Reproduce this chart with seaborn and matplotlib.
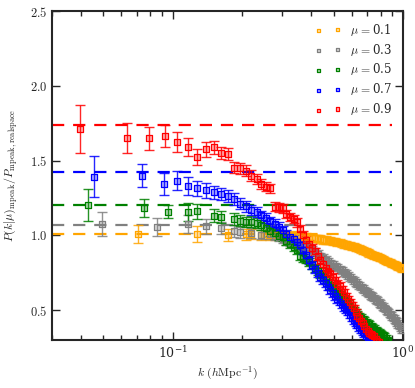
import numpy as np
import pandas as pd
import matplotlib
matplotlib.use("Agg")
import matplotlib.pyplot as plt
import seaborn as sns
from matplotlib.ticker import FixedLocator, FormatStrFormatter, LogLocator, NullFormatter
from matplotlib.colors import to_rgba

nan = np.nan

# Data
mus = ["0.1", "0.3", "0.5", "0.7", "0.9"]
colors = ["orange", "gray", "green", "blue", "red"]
kaiser = [1.008, 1.072, 1.206, 1.422, 1.738]

# common k bins (h/Mpc) at k > 0.1
k_grid = [0.105, 0.1165, 0.128, 0.1395, 0.151, 0.1625, 0.174, 0.1855, 0.197, 0.2085,
          0.220, 0.2315, 0.243, 0.2545, 0.266, 0.2775, 0.289, 0.3005, 0.312, 0.3235,
          0.335, 0.3465, 0.358, 0.3695, 0.381, 0.3925, 0.404, 0.4155, 0.427, 0.4385,
          0.450, 0.4615, 0.473, 0.4845, 0.496, 0.5075, 0.519, 0.5305, 0.542, 0.5535,
          0.565, 0.5765, 0.588, 0.5995, 0.611, 0.6225, 0.634, 0.6455, 0.657, 0.6685,
          0.680, 0.6915, 0.703, 0.7145, 0.726, 0.7375, 0.749, 0.7605, 0.772, 0.7835,
          0.795, 0.8065, 0.818, 0.8295, 0.841, 0.8525, 0.864, 0.8755, 0.887, 0.8985,
          0.910, 0.9215, 0.933, 0.9445, 0.956, 0.9675, 0.979, 0.9905]
err_grid = [0.065, 0.060, 0.052, 0.048, 0.045, 0.042, 0.040, 0.038, 0.036, 0.035,
            0.034, 0.033, 0.032, 0.031, 0.030, 0.030, 0.029, 0.029, 0.028, 0.028,
            0.027, 0.027, 0.027, 0.026, 0.026, 0.026, 0.026, 0.025, 0.025, 0.025,
            0.025, 0.025, 0.024, 0.024, 0.024, 0.024, 0.024, 0.024, 0.023, 0.023,
            0.023, 0.023, 0.023, 0.023, 0.023, 0.022, 0.022, 0.022, 0.022, 0.022,
            0.022, 0.022, 0.022, 0.022, 0.021, 0.021, 0.021, 0.021, 0.021, 0.021,
            0.021, 0.021, 0.021, 0.021, 0.020, 0.020, 0.020, 0.020, 0.020, 0.020,
            0.020, 0.020, 0.020, 0.020, 0.020, 0.020, 0.020, 0.020]

p01 = [nan, nan, 1.010, nan, nan, nan, 1.004, nan, nan, 1.006,
       1.010, nan, 1.004, 1.006, 1.000, 1.004, 0.998, 1.000, 1.002, 0.996,
       1.000, 0.994, 0.996, 0.990, 0.990, 0.986, 0.984, 0.980, 0.980, 0.974,
       0.970, 0.970, 0.966, 0.964, 0.960, 0.956, 0.954, 0.950, 0.946, 0.940,
       0.940, 0.934, 0.930, 0.926, 0.924, 0.920, 0.914, 0.910, 0.906, 0.900,
       0.894, 0.890, 0.886, 0.880, 0.874, 0.870, 0.866, 0.860, 0.858, 0.854,
       0.850, 0.846, 0.840, 0.836, 0.830, 0.828, 0.824, 0.820, 0.816, 0.810,
       0.808, 0.804, 0.800, 0.796, 0.790, 0.786, 0.780, 0.776]
p03 = [nan, 1.078, nan, 1.060, nan, 1.050, nan, 1.030, 1.020, nan,
       1.018, nan, 1.005, nan, 1.006, 0.996, 0.990, 0.976, 0.964, 0.956,
       0.950, 0.940, 0.936, 0.928, 0.924, 0.914, 0.900, 0.890, 0.874, 0.860,
       0.850, 0.836, 0.826, 0.814, 0.806, 0.794, 0.786, 0.774, 0.766, 0.754,
       0.742, 0.730, 0.720, 0.708, 0.696, 0.686, 0.674, 0.666, 0.654, 0.646,
       0.634, 0.626, 0.616, 0.608, 0.598, 0.590, 0.580, 0.570, 0.564, 0.554,
       0.544, 0.536, 0.524, 0.516, 0.504, 0.496, 0.484, 0.476, 0.464, 0.456,
       0.444, 0.436, 0.424, 0.416, 0.400, 0.392, 0.380, 0.370]
p05 = [nan, 1.158, 1.160, nan, 1.132, 1.124, nan, 1.110, 1.098, 1.090,
       1.092, 1.080, 1.070, 1.050, 1.028, 1.014, 0.998, 0.990, 0.962, 0.940,
       0.922, 0.904, 0.862, 0.850, 0.838, 0.820, 0.800, 0.782, 0.760, 0.742,
       0.720, 0.700, 0.682, 0.666, 0.650, 0.636, 0.620, 0.604, 0.590, 0.576,
       0.560, 0.546, 0.530, 0.514, 0.500, 0.486, 0.470, 0.460, 0.450, 0.440,
       0.430, 0.420, 0.410, 0.404, 0.394, 0.384, 0.376, 0.366, 0.360, 0.350,
       0.344, 0.338, 0.334, 0.324, 0.314, 0.302, 0.290, nan, nan, nan,
       nan, nan, nan, nan, nan, nan, nan, nan]
p07 = [1.365, 1.328, 1.314, 1.300, 1.288, 1.276, 1.262, 1.244, 1.212, 1.194,
       1.170, 1.156, 1.134, 1.116, 1.094, 1.076, 1.058, 1.036, 1.010, 0.990,
       0.978, 0.958, 0.934, 0.902, 0.866, 0.834, 0.802, 0.774, 0.746, 0.720,
       0.700, 0.678, 0.656, 0.634, 0.614, 0.592, 0.574, 0.556, 0.538, 0.520,
       0.504, 0.488, 0.470, 0.450, 0.432, 0.414, 0.400, 0.384, 0.370, 0.356,
       0.344, 0.330, 0.318, 0.304, 0.290, nan, nan, nan, nan, nan,
       nan, nan, nan, nan, nan, nan, nan, nan, nan, nan,
       nan, nan, nan, nan, nan, nan, nan, nan]
p09 = [1.625, 1.590, 1.525, 1.575, 1.588, 1.550, 1.545, 1.452, 1.448, 1.432,
       1.400, 1.378, 1.342, 1.326, 1.316, 1.190, 1.188, 1.180, 1.142, 1.124,
       1.108, 1.086, 1.040, 1.002, 0.968, 0.944, 0.914, 0.892, 0.860, 0.836,
       0.808, 0.782, 0.758, 0.742, 0.722, 0.698, 0.676, 0.662, 0.638, 0.620,
       0.594, 0.572, 0.552, 0.534, 0.512, 0.488, 0.462, 0.446, 0.430, 0.414,
       0.396, 0.376, 0.362, 0.350, 0.342, 0.334, 0.326, 0.310, 0.296, 0.284,
       nan, nan, nan, nan, nan, nan, nan, nan, nan, nan,
       nan, nan, nan, nan, nan, nan, nan, nan]

# sparse low-k bins, different for each mu
k_low_01 = [0.0705]
p_low_01 = [1.009]
e_low_01 = [0.060]
k_low_03 = [0.0494, 0.0858]
p_low_03 = [1.073, 1.056]
e_low_03 = [0.080, 0.061]
k_low_05 = [0.0429, 0.0751, 0.0957]
p_low_05 = [1.200, 1.183, 1.158]
e_low_05 = [0.107, 0.063, 0.045]
k_low_07 = [0.0457, 0.0734, 0.0914]
p_low_07 = [1.393, 1.400, 1.343]
e_low_07 = [0.140, 0.080, 0.072]
k_low_09 = [0.0397, 0.0634, 0.0790, 0.0926]
p_low_09 = [1.713, 1.653, 1.649, 1.665]
e_low_09 = [0.160, 0.100, 0.077, 0.075]

p_grid = [p01, p03, p05, p07, p09]
k_lows = [k_low_01, k_low_03, k_low_05, k_low_07, k_low_09]
p_lows = [p_low_01, p_low_03, p_low_05, p_low_07, p_low_09]
e_lows = [e_low_01, e_low_03, e_low_05, e_low_07, e_low_09]

rows = []
for mu, kl, pl, el, pg in zip(mus, k_lows, p_lows, e_lows, p_grid):
    for k, p, e in zip(kl + k_grid, pl + pg, el + err_grid):
        rows.append((mu, k, p, e))
df = pd.DataFrame(rows, columns=["mu", "k", "P", "err"]).dropna()

# Plot
sns.set_style("ticks")
plt.rcParams["mathtext.fontset"] = "cm"
plt.rcParams["font.family"] = ["DejaVu Serif"]

fig = plt.figure(figsize=(4.15, 3.88), dpi=100)
ax = fig.add_axes([0.1253, 0.1237, 0.8457, 0.8479])

for mu, col, h in zip(mus, colors, kaiser):
    ax.plot([0.03, 0.9], [h, h], color=col, lw=1.6, ls=(0, (5.5, 4)), zorder=1)

for mu, col in zip(mus, colors):
    sub = df[df["mu"] == mu]
    ax.errorbar(sub["k"], sub["P"], yerr=sub["err"], fmt="none", ecolor=col,
                elinewidth=1.0, capsize=3.5, capthick=1.0, alpha=0.85, zorder=2)
    sns.scatterplot(x=sub["k"].values, y=sub["P"].values, ax=ax, marker="s", s=18,
                    color=col, facecolor=to_rgba(col, 0.3), edgecolor=col,
                    linewidth=0.9, label=r"$\mu\,=$" + mu, zorder=3)

ax.set_xscale("log")
ax.set_xlim(0.03, 1.0)
ax.set_ylim(0.3, 2.5)
ax.yaxis.set_major_locator(FixedLocator([0.5, 1.0, 1.5, 2.0, 2.5]))
ax.yaxis.set_major_formatter(FormatStrFormatter(r"$%.1f$"))
ax.xaxis.set_major_locator(LogLocator(base=10))
ax.xaxis.set_minor_locator(LogLocator(base=10, subs=np.arange(2, 10)))
ax.xaxis.set_minor_formatter(NullFormatter())
ax.tick_params(which="both", direction="in", top=True, right=True, labelsize=9)
ax.tick_params(which="major", length=6, width=1.0)
ax.tick_params(which="minor", length=3.5, width=1.0)
for s in ax.spines.values():
    s.set_linewidth(1.5)

ax.set_xlabel(r"$k\ (h{\rm Mpc}^{-1})$", fontsize=8.5, labelpad=3)
ax.set_ylabel(r"$P(k|\mu)_{\rm mpeak}/P_{\rm mpeak,realspace}$", fontsize=8.5, labelpad=8)

ax.legend(loc="upper right", frameon=False, scatterpoints=2, markerscale=0.55,
          fontsize=8.5, labelspacing=0.33, handlelength=2.2, handletextpad=0.8,
          borderaxespad=0.5)

fig.savefig("out.png", dpi=100)
